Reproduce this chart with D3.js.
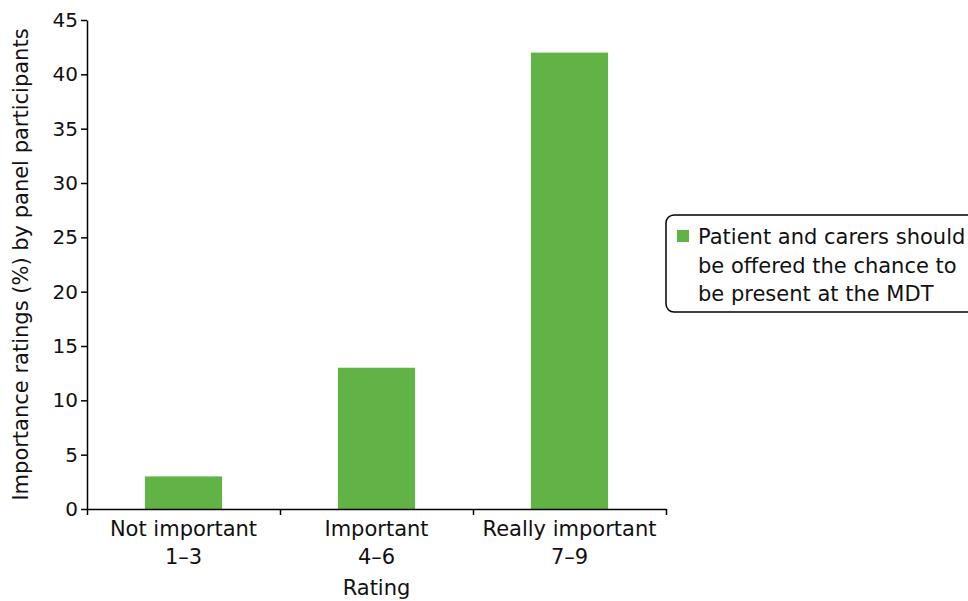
<!DOCTYPE html>
<head>
<meta charset="utf-8">
<style>
body { margin: 0; background: #fff; }
text { font-family: "DejaVu Sans", "Noto Sans", sans-serif; fill: #111; }
.axis path, .axis line { stroke: #000; stroke-width: 1.5px; }
</style>
</head>
<body>
<script src="https://cdn.jsdelivr.net/npm/d3@7"></script>
<script>

// data
var categories = ["Not important|1\u20133", "Important|4\u20136", "Really important|7\u20139"];
var values = [3, 13, 42];
var yTicks = [0, 5, 10, 15, 20, 25, 30, 35, 40, 45];
var seriesName = ["Patient and carers should", "be offered the chance to", "be present at the MDT"];

var margin = {top: 20, left: 87},
    width = 579,
    height = 489;

var svg = d3.select("body").append("svg")
    .attr("width", 968)
    .attr("height", 601)
  .append("g")
    .attr("transform", "translate(" + margin.left + "," + margin.top + ")");

var x = d3.scaleBand().domain(categories).range([0, width]).padding(0);
var y = d3.scaleLinear().domain([0, 45]).range([height, 0]);

// bars
svg.selectAll(".bar")
    .data(values)
  .enter().append("rect")
    .attr("class", "bar")
    .attr("x", function(d, i) { return x(categories[i]) + x.bandwidth() * 0.3; })
    .attr("width", x.bandwidth() * 0.4)
    .attr("y", function(d) { return y(d); })
    .attr("height", function(d) { return height - y(d); })
    .style("fill", "#62b346");

// y axis
var yAxis = svg.append("g")
    .attr("class", "axis")
    .call(d3.axisLeft(y).tickValues(yTicks).tickSize(6).tickSizeOuter(0));
yAxis.selectAll("text").style("font-size", "20px").attr("x", -9);

// x axis - ticks at the band edges
var edges = d3.scaleLinear().domain([0, 3]).range([0, width]);
var xAxis = svg.append("g")
    .attr("class", "axis")
    .attr("transform", "translate(0," + height + ")")
    .call(d3.axisBottom(edges).ticks(3).tickSize(6).tickSizeOuter(0).tickFormat(""));

svg.selectAll(".xlab")
    .data(categories)
  .enter().append("text")
    .attr("class", "xlab")
    .attr("text-anchor", "middle")
    .style("font-size", "21px")
    .attr("transform", function(d) { return "translate(" + (x(d) + x.bandwidth() / 2) + "," + (height + 27) + ")"; })
    .each(function(d) {
      var parts = d.split("|");
      d3.select(this).selectAll("tspan").data(parts).enter().append("tspan")
        .attr("x", 0)
        .attr("dy", function(p, j) { return j ? 28 : 0; })
        .text(function(p) { return p; });
    });

// axis titles
svg.append("text")
    .attr("text-anchor", "middle")
    .style("font-size", "21px")
    .attr("x", x(categories[1]) + x.bandwidth() / 2)
    .attr("y", height + 86)
    .text("Rating");

svg.append("text")
    .attr("text-anchor", "middle")
    .style("font-size", "21px")
    .attr("transform", "translate(-59," + (height / 2) + ") rotate(-90)")
    .text("Importance ratings (%) by panel participants");

// legend
var legend = d3.select("svg").append("g")
    .attr("transform", "translate(666,215)");

legend.append("rect")
    .attr("width", 310)
    .attr("height", 97)
    .attr("rx", 8)
    .style("fill", "#fff")
    .style("stroke", "#000")
    .style("stroke-width", 1.5);

legend.append("rect")
    .attr("x", 11)
    .attr("y", 15)
    .attr("width", 12)
    .attr("height", 12)
    .style("fill", "#62b346");

legend.selectAll(".ltxt")
    .data(seriesName)
  .enter().append("text")
    .attr("class", "ltxt")
    .style("font-size", "21px")
    .attr("x", 32)
    .attr("y", function(d, i) { return 29 + i * 28.5; })
    .text(function(d) { return d; });

</script>
</body>
